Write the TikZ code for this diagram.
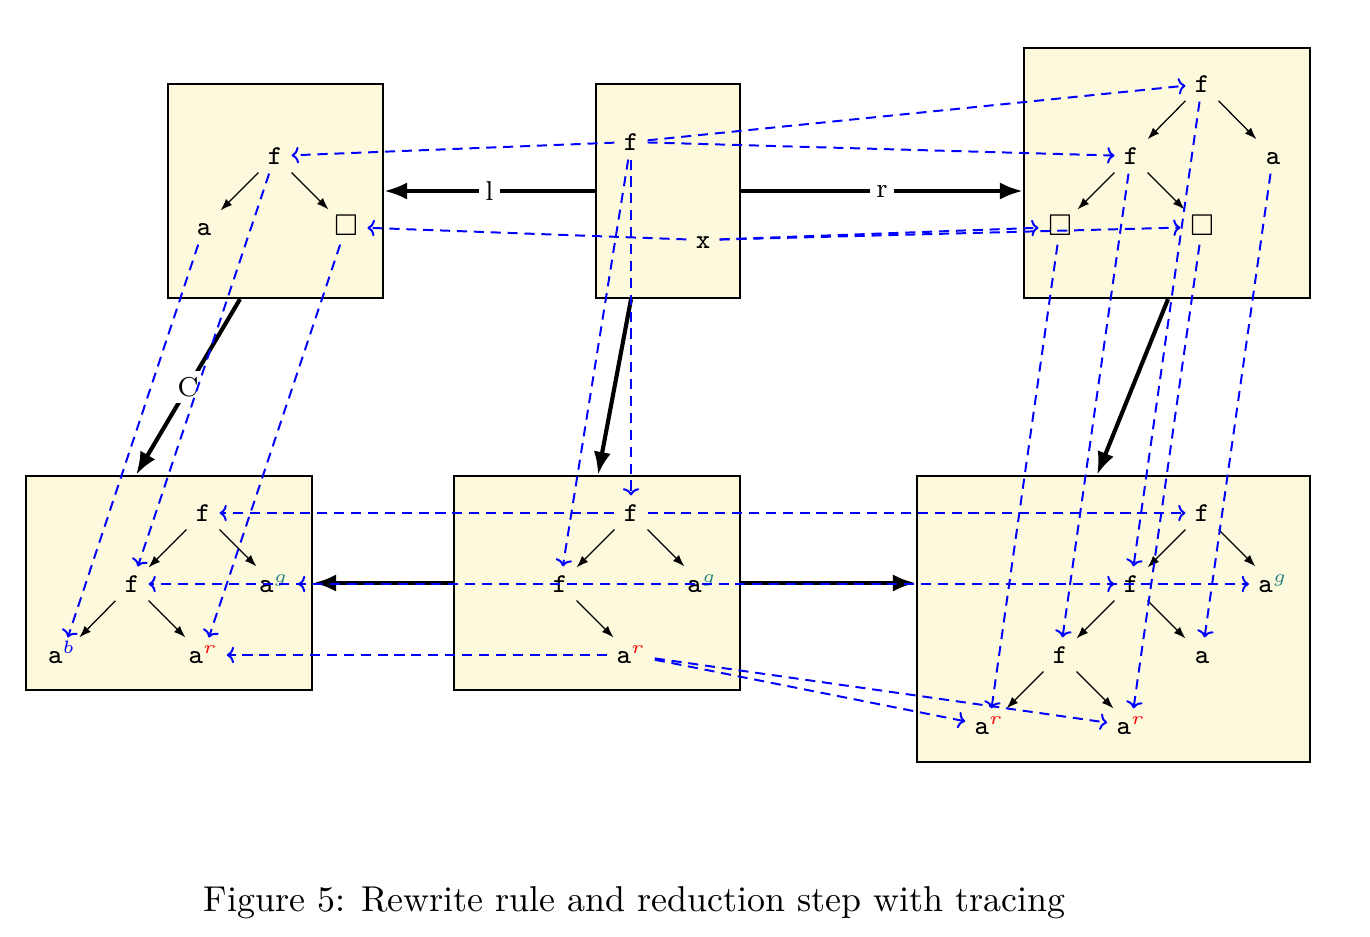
\documentclass[tikz,border=0pt]{standalone}
\usepackage{fontspec}
\usepackage{amssymb}
\usetikzlibrary{arrows.meta,fit,calc}
\definecolor{boxyellow}{RGB}{253,249,220}
\definecolor{supteal}{RGB}{40,130,130}
\newcommand{\supa}[2]{a$^{\textcolor{#1}{#2}}$}
\tikzset{
  box/.style={draw=black, line width=0.6pt, fill=boxyellow, inner sep=0pt},
  tn/.style={font=\fontsize{7.6}{9}\selectfont\ttfamily, inner sep=2.4pt, text height=4.6pt, text depth=0pt},
  tedge/.style={-{Latex[length=3.3pt,width=2.4pt]}, line width=0.35pt},
  rulearrow/.style={line width=1.15pt, -{Latex[length=6.4pt,width=4.8pt]}},
  lab/.style={fill=white, font=\fontsize{7.6}{9}\selectfont, inner sep=1.8pt},
  trace/.style={blue, line width=0.55pt, dash pattern=on 2.8pt off 1.9pt, -{To[length=2pt,width=4.6pt]}},
  captext/.style={font=\fontsize{10}{12}\selectfont, inner sep=0pt}
}
\begin{document}
\begin{tikzpicture}[x=0.2783pt, y=-0.2783pt]
\useasboundingbox (0,0) rectangle (1370,936);

% boxes
\node[box, fit={(168,84) (383,298)}] (L) {};
\node[box, fit={(596,84) (740,298)}] (K) {};
\node[box, fit={(1024,48) (1310,298)}] (R) {};
\node[box, fit={(26,476) (312,690)}] (P) {};
\node[box, fit={(454,476) (740,690)}] (G) {};
\node[box, fit={(917,476) (1310,762)}] (H) {};

% L tree
\node[tn] (Lf) at (275,156) {f};
\node[tn] (La) at (204,227) {a};
\node[tn] (Lb) at (346,227) {$\Box$};
% K
\node[tn] (Kf) at (631,142) {f};
\node[tn] (Kx) at (703,240) {x};
% R tree
\node[tn] (Rf1) at (1202,84) {f};
\node[tn] (Rf2) at (1131,156) {f};
\node[tn] (Ra) at (1273,156) {a};
\node[tn] (Rb1) at (1060,227) {$\Box$};
\node[tn] (Rb2) at (1202,227) {$\Box$};
% P tree (bottom left)
\node[tn] (Pf1) at (203,513) {f};
\node[tn] (Pf2) at (132,584) {f};
\node[tn] (Pag) at (274,584) {\supa{supteal}{g}};
\node[tn] (Pab) at (62,655) {\supa{blue}{b}};
\node[tn] (Par) at (203,655) {\supa{red}{r}};
% G tree (bottom middle)
\node[tn] (Gf1) at (631,513) {f};
\node[tn] (Gf2) at (560,584) {f};
\node[tn] (Gag) at (702,584) {\supa{supteal}{g}};
\node[tn] (Gar) at (631,655) {\supa{red}{r}};
% H tree (bottom right)
\node[tn] (Hf1) at (1202,513) {f};
\node[tn] (Hf2) at (1131,584) {f};
\node[tn] (Hag) at (1273,584) {\supa{supteal}{g}};
\node[tn] (Hf3) at (1060,655) {f};
\node[tn] (Ha) at (1202,655) {a};
\node[tn] (Har1) at (989,726) {\supa{red}{r}};
\node[tn] (Har2) at (1131,726) {\supa{red}{r}};

% tree edges
\draw[tedge] (Lf) -- (La);
\draw[tedge] (Lf) -- (Lb);
\draw[tedge] (Rf1) -- (Rf2);
\draw[tedge] (Rf1) -- (Ra);
\draw[tedge] (Rf2) -- (Rb1);
\draw[tedge] (Rf2) -- (Rb2);
\draw[tedge] (Pf1) -- (Pf2);
\draw[tedge] (Pf1) -- (Pag);
\draw[tedge] (Pf2) -- (Pab);
\draw[tedge] (Pf2) -- (Par);
\draw[tedge] (Gf1) -- (Gf2);
\draw[tedge] (Gf1) -- (Gag);
\draw[tedge] (Gf2) -- (Gar);
\draw[tedge] (Hf1) -- (Hf2);
\draw[tedge] (Hf1) -- (Hag);
\draw[tedge] (Hf2) -- (Hf3);
\draw[tedge] (Hf2) -- (Ha);
\draw[tedge] (Hf3) -- (Har1);
\draw[tedge] (Hf3) -- (Har2);

% rule and reduction arrows
\draw[rulearrow] (K.west) -- node[lab] {l} (K.west -| L.east);
\draw[rulearrow] (K.east) -- node[lab] {r} (K.east -| R.west);
\draw[rulearrow] ($(L.south)+(-35.5,0)$) -- node[lab] {C} ($(P.north)+(-33,0)$);
\draw[rulearrow] ($(K.south)+(-37,0)$) -- ($(G.north)+(1,0)$);
\draw[rulearrow] ($(R.south)+(1,0)$) -- ($(H.north)+(-16.5,0)$);
\draw[rulearrow] (G.west) -- (G.west -| P.east);
\draw[rulearrow] (G.east) -- (G.east -| H.west);

% dash phases so that overlapping horizontal traces in G line up
\path let \p1=(Gf2.east), \p2=(Gag.west), \p3=(Gag.east), \p4=(Gf2.west) in
  \pgfextra{%
    \pgfmathsetmacro\trphA{mod(2.8 - (\x2-\x1) + 470, 4.7)}%
    \pgfmathsetmacro\trphB{mod(\trphA + (\x3-\x1) + 470, 4.7)}%
    \pgfmathsetmacro\trphC{mod((\x2-\x4) + 470, 4.7)}%
    \global\let\trphaseA\trphA
    \global\let\trphaseB\trphB
    \global\let\trphaseC\trphC
  };

% tracing
\draw[trace] (Kf) -- (Lf);
\draw[trace] (Kx) -- (Lb);
\draw[trace] (Kf) -- (Rf1);
\draw[trace] (Kf) -- (Rf2);
\draw[trace] (Kx) -- (Rb1);
\draw[trace] (Kx) -- (Rb2);
\draw[trace] (La) -- (Pab);
\draw[trace] (Lf) -- (Pf2);
\draw[trace] (Lb) -- (Par);
\draw[trace] (Kf) -- (Gf1);
\draw[trace] (Kf) -- (Gf2);
\draw[trace] (Rf1) -- (Hf2);
\draw[trace] (Rf2) -- (Hf3);
\draw[trace] (Ra) -- (Ha);
\draw[trace] (Rb1) -- (Har1);
\draw[trace] (Rb2) -- (Har2);
\draw[trace] (Gf1) -- (Pf1);
\draw[trace] (Gag) -- (Pag);
\draw[trace, dash phase=\trphaseC pt] (Gf2) -- (Pf2);
\draw[trace] (Gar) -- (Par);
\draw[trace] (Gf1) -- (Hf1);
\draw[trace, dash phase=\trphaseA pt] (Gf2) -- (Hf2);
\draw[trace, dash phase=\trphaseB pt] (Gag) -- (Hag);
\draw[trace] (Gar) -- (Har1);
\draw[trace] (Gar) -- (Har2);

% caption
\node[captext] (cap) at (634.5,903) {Figure 5: Rewrite rule and reduction step with tracing};
\end{tikzpicture}
\end{document}
